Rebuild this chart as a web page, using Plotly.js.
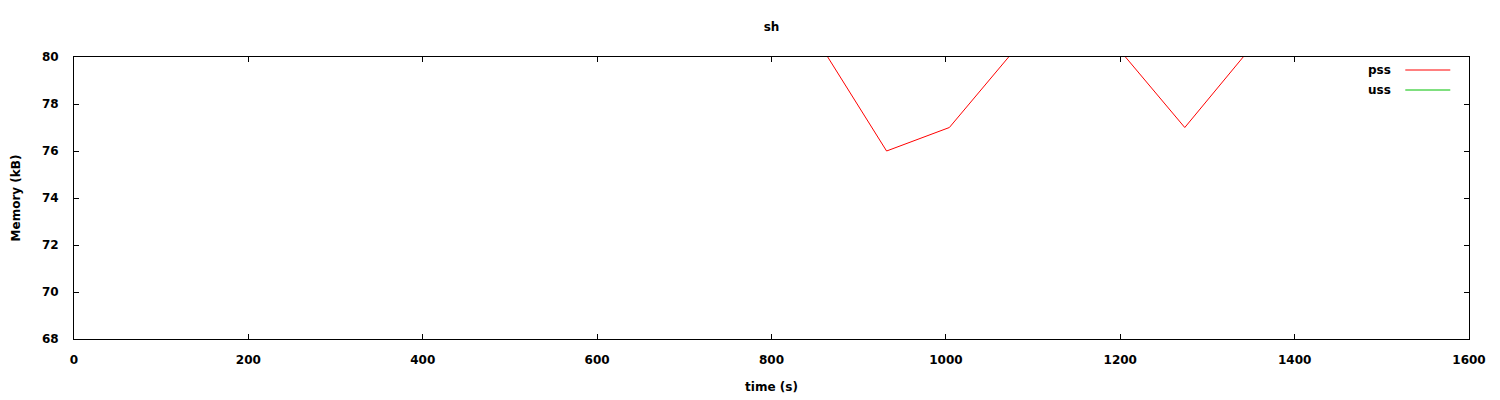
<!DOCTYPE html>
<html>
<head>
<meta charset="utf-8">
<script src="https://cdn.plot.ly/plotly-3.0.1.min.js"></script>
<style>html,body{margin:0;padding:0;background:#fff;}#chart{width:1500px;height:400px;}</style>
</head>
<body>
<div id="chart"></div>
<script>
// Data (time in s, memory in kB). Points outside the 68-80 window are clipped, as in the reference.
const pssTime = [797, 865, 932, 1004, 1072, 1140, 1206, 1274, 1341, 1409];
const pssMem  = [84, 80, 76, 77, 80, 84, 80, 77, 80, 84];
const ussTime = [797, 865, 932, 1004, 1072, 1140, 1206, 1274, 1341, 1409];
const ussMem  = [60, 60, 60, 60, 60, 60, 60, 60, 60, 60];
const seriesNames = ["pss", "uss"];
const seriesColors = ["#ff0000", "#00c000"];
const xTicks = [0, 200, 400, 600, 800, 1000, 1200, 1400, 1600];
const yTicks = [68, 70, 72, 74, 76, 78, 80];
const chartTitle = "sh";

const font = {family: "DejaVu Sans, sans-serif", size: 12, color: "#000", weight: "bold"};

const traces = [
  {x: pssTime, y: pssMem, name: seriesNames[0], mode: "lines", line: {color: seriesColors[0], width: 1}, cliponaxis: true},
  {x: ussTime, y: ussMem, name: seriesNames[1], mode: "lines", line: {color: seriesColors[1], width: 1}, cliponaxis: true}
];

const axisCommon = {
  showgrid: false, zeroline: false, showline: true, linecolor: "#000", linewidth: 1,
  mirror: "allticks", ticks: "inside", ticklen: 5, tickcolor: "#000", tickwidth: 1,
  tickfont: font
};

const layout = {
  width: 1500, height: 400,
  margin: {l: 74, r: 31, t: 57, b: 61},
  paper_bgcolor: "#fff", plot_bgcolor: "#fff",
  showlegend: false,
  font: font,
  title: {text: chartTitle, font: font, xref: "paper", x: 0.5, xanchor: "center", y: 1 - 27/400, yanchor: "middle"},
  xaxis: Object.assign({}, axisCommon, {range: [0, 1600], tickvals: xTicks, ticktext: xTicks.map(String), ticklabelstandoff: 10,
    title: {text: "time (s)", font: font, standoff: 16}}),
  yaxis: Object.assign({}, axisCommon, {range: [68, 80], tickvals: yTicks, ticktext: yTicks.map(String), ticklabelstandoff: 12,
    title: {text: "Memory (kB)", font: font, standoff: 18}}),
  annotations: seriesNames.map((n, i) => ({
    xref: "paper", yref: "paper", x: (1393 - 74) / 1394.7, y: 1 - (13 + 20 * i) / 282,
    xanchor: "right", yanchor: "middle", text: n, showarrow: false, font: font
  })),
  shapes: seriesNames.map((n, i) => ({
    type: "line", xref: "paper", yref: "paper",
    x0: (1405 - 74) / 1394.7, x1: (1450 - 74) / 1394.7,
    y0: 1 - (13 + 20 * i) / 282, y1: 1 - (13 + 20 * i) / 282,
    line: {color: seriesColors[i], width: 1}
  }))
};

Plotly.newPlot("chart", traces, layout, {displayModeBar: false, staticPlot: true});
</script>
</body>
</html>
